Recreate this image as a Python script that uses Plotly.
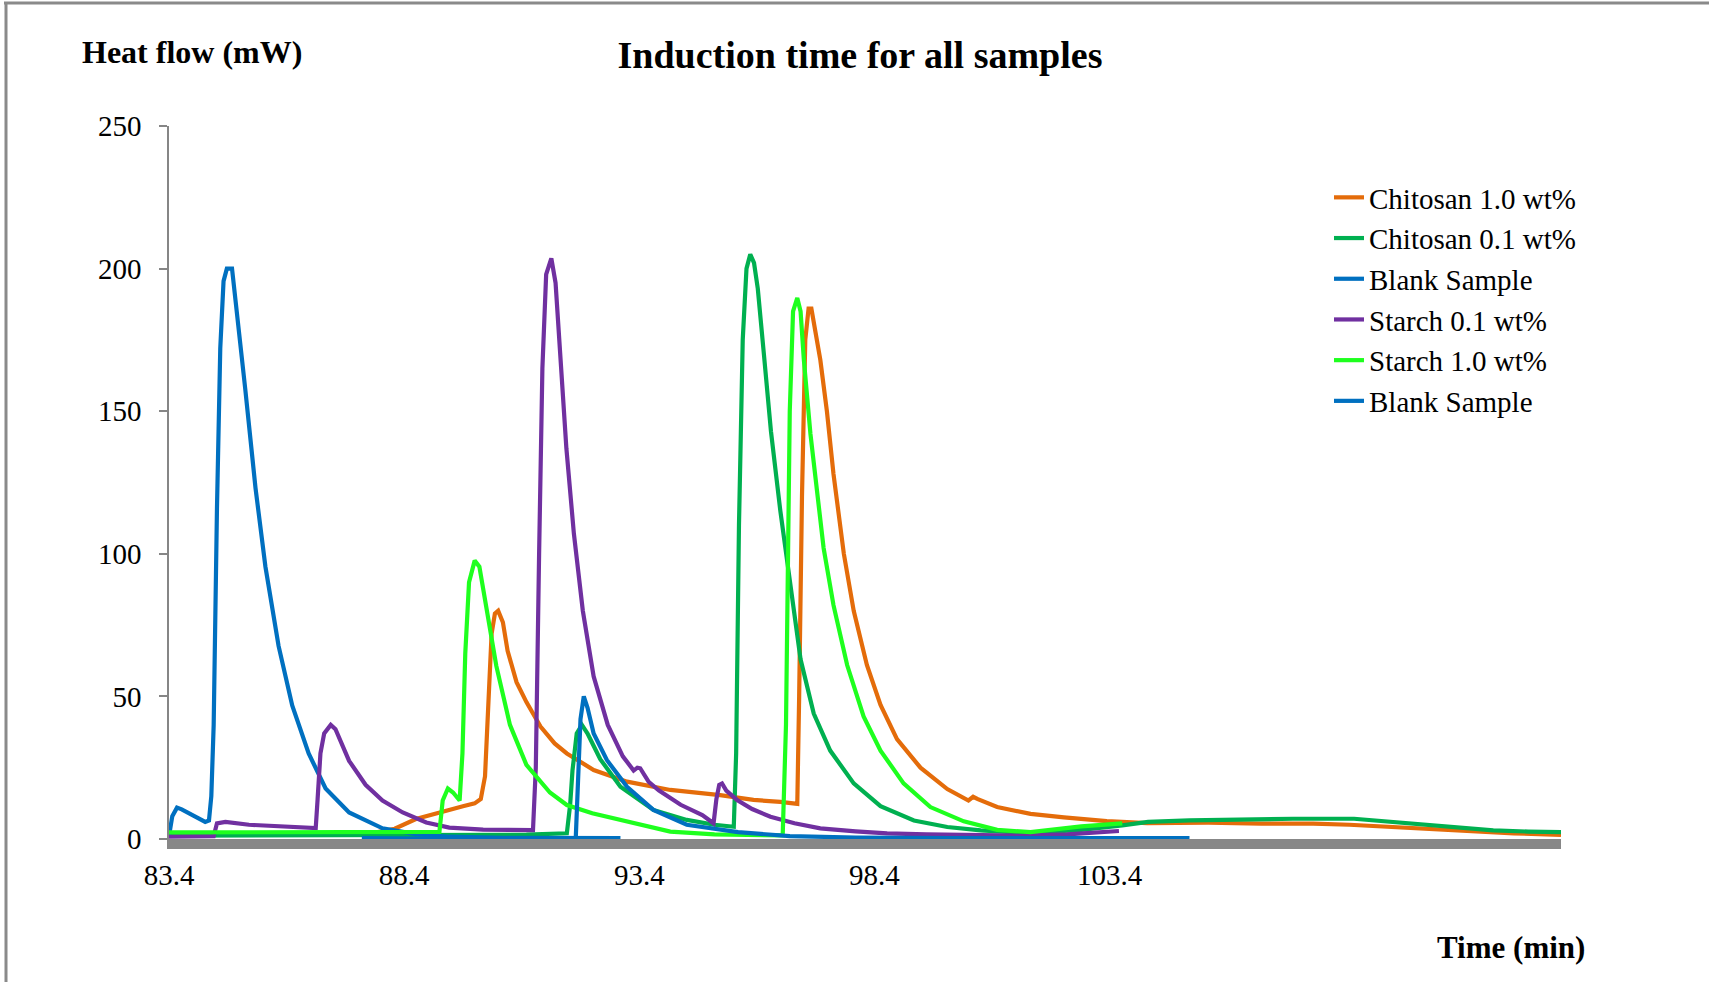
import plotly.graph_objects as go

# ---------------- data ----------------
chitosan10_t = [83.4, 85.0, 87.0, 87.7, 88.2, 88.65, 89.18, 89.65, 89.9, 90.03, 90.12, 90.19, 90.26, 90.33, 90.4,
                90.5, 90.6, 90.79, 91.0, 91.3, 91.6, 91.86, 92.43, 93.14, 94.06, 95.12, 95.83, 96.4, 96.76, 96.8,
                96.86, 96.93, 97.0, 97.06, 97.13, 97.25, 97.39, 97.53, 97.75, 97.96, 98.24, 98.53, 98.88, 99.38,
                99.95, 100.4, 100.5, 100.6, 101.01, 101.72, 102.43, 103.34, 104.2, 105.5, 106.63, 107.73, 108.5,
                109.37, 110.2, 111.0, 112.0, 113.0]
chitosan10_v = [1.5, 1.5, 1.5, 2.0, 3.6, 7.0, 9.5, 11.5, 12.5, 14, 22, 50, 72, 79, 80,
                76, 66, 55, 48, 39.4, 33.5, 30, 24.2, 20.1, 17.2, 15.4, 13.7, 13.0, 12.3, 50,
                120, 175, 186, 186, 180, 168, 150, 128, 100, 80, 61, 47, 35, 25,
                17.5, 13.5, 14.8, 14.0, 11.2, 8.8, 7.6, 6.3, 5.6, 5.7, 5.4, 5.4, 5.0,
                4.2, 3.5, 2.6, 2.0, 1.4]

chitosan01_t = [83.4, 86.0, 89.0, 91.0, 91.86, 91.93, 91.98, 92.07, 92.18, 92.3, 92.45, 92.57, 93.0, 93.7, 94.41,
                95.0, 95.41, 95.46, 95.52, 95.6, 95.68, 95.76, 95.84, 95.92, 96.05, 96.2, 96.4, 96.61, 96.83,
                97.11, 97.46, 97.96, 98.53, 99.24, 99.95, 100.66, 101.3, 102.0, 102.8, 103.67, 104.22, 105.1,
                106.0, 107.3, 108.6, 109.9, 110.8, 111.56, 112.3, 113.0]
chitosan01_v = [1.2, 1.3, 1.5, 1.5, 2.0, 12, 24, 37, 40, 37, 32, 28, 18.3, 10.2, 6.7,
                5.0, 4.3, 30, 110, 175, 200, 205, 202, 193, 170, 143, 115, 89, 63,
                44, 31, 19.5, 11.5, 6.5, 4.2, 3.0, 2.4, 2.4, 3.2, 4.8, 6.0, 6.5,
                6.8, 7.1, 7.1, 5.4, 4.2, 3.0, 2.6, 2.4]

blank1_t = [83.4, 83.47, 83.57, 83.67, 84.17, 84.25, 84.3, 84.35, 84.42, 84.49, 84.56, 84.63, 84.74, 84.84,
            85.02, 85.24, 85.45, 85.73, 86.02, 86.37, 86.73, 87.23, 87.94, 88.65, 89.36, 90.5, 91.5, 93.0]
blank1_v = [1.0, 8.0, 11, 10.4, 6.0, 6.5, 15, 40, 116, 172, 195.6, 200, 200, 186,
            158, 123, 95.5, 67.7, 46.8, 30, 17.7, 9.3, 3.75, 1.7, 0.8, 0.4, 0.3, 0.3]

starch01_t = [83.4, 84.35, 84.42, 84.6, 85.1, 85.8, 86.52, 86.56, 86.62, 86.7, 86.84, 86.94, 87.23, 87.58,
              87.94, 88.37, 88.87, 89.36, 90.08, 91.14, 91.2, 91.27, 91.34, 91.42, 91.53, 91.62, 91.73, 91.85,
              92.01, 92.2, 92.43, 92.73, 93.05, 93.28, 93.36, 93.42, 93.6, 93.82, 94.28, 94.74, 94.98, 95.04,
              95.1, 95.16, 95.25, 95.48, 95.8, 96.19, 96.7, 97.25, 98.0, 98.67, 99.5, 100.5, 101.5, 102.5, 103.6]
starch01_v = [0.8, 1.0, 5.5, 6.0, 5.0, 4.3, 3.8, 14, 30, 37, 40, 38.5, 27.4, 19,
              13.5, 9.3, 5.8, 4.0, 3.3, 3.1, 25, 100, 165, 198, 203.6, 195, 168, 137,
              107, 80, 57, 40, 29, 24, 25, 24.8, 20, 17, 12, 8.4, 5.5, 14,
              19, 19.5, 17, 13.7, 10.5, 7.8, 5.5, 3.75, 2.7, 2.0, 1.6, 1.3, 1.2, 1.6, 2.8]

starch10_t = [83.4, 86.0, 89.15, 89.22, 89.33, 89.44, 89.58, 89.64, 89.7, 89.78, 89.9, 90.0, 90.15, 90.36, 90.65,
              91.0, 91.5, 91.86, 92.4, 93.0, 94.06, 95.0, 96.0, 96.45, 96.52, 96.6, 96.67, 96.76, 96.83, 96.9,
              97.04, 97.18, 97.32, 97.53, 97.82, 98.17, 98.53, 99.02, 99.59, 100.3, 101.01, 101.72, 102.43,
              102.8, 103.67]
starch10_v = [2.3, 2.3, 2.5, 13.5, 17.7, 16.3, 13.5, 30, 65, 90, 97.6, 95.5, 81.6, 60.7, 40,
              26, 16.3, 11.9, 9, 6.7, 2.6, 1.6, 1.3, 1.3, 40, 150, 185, 189.7, 185, 168,
              142, 122, 102, 82, 61, 43, 31, 19.5, 11.2, 6.2, 3.2, 2.4, 3.8,
              4.4, 5.5]

blank2_t = [87.5, 89.0, 91.0, 91.9, 92.05, 92.1, 92.15, 92.22, 92.3, 92.43, 92.71, 93.14, 93.7, 94.41, 95.5,
            96.6, 98.0, 100.0, 102.5, 105.1]
blank2_v = [0.3, 0.2, 0.0, -0.3, 0.5, 20, 42, 50, 46, 37, 27.7, 18.3, 10.2, 5.0, 2.4,
            1.0, 0.5, 0.3, 0.3, 0.3]

series_names = ["Chitosan 1.0 wt%", "Chitosan 0.1 wt%", "Blank Sample", "Starch 0.1 wt%",
                "Starch 1.0 wt%", "Blank Sample"]
series_colors = ["#E46C0A", "#00B050", "#0070C0", "#7030A0", "#1EFF1E", "#0070C0"]

x_tick_vals = [83.4, 88.4, 93.4, 98.4, 103.4]
x_tick_text = ["83.4", "88.4", "93.4", "98.4", "103.4"]
y_tick_vals = [0, 50, 100, 150, 200, 250]

series_data = [(chitosan10_t, chitosan10_v), (chitosan01_t, chitosan01_v), (blank1_t, blank1_v),
               (starch01_t, starch01_v), (starch10_t, starch10_v), (blank2_t, blank2_v)]

# ---------------- figure ----------------
SERIF = "Liberation Serif, Times New Roman, serif"
fig = go.Figure()
for i, ((t, v), name, col) in enumerate(zip(series_data, series_names, series_colors)):
    assert len(t) == len(v), name
    fig.add_trace(go.Scatter(x=t, y=v, mode="lines", name=name, legendgroup=f"g{i}",
                             line=dict(color=col, width=4.2)))

W, H = 1709, 982
L, R, T, B = 169, 148, 126, 143
pw, ph = W - L - R, H - T - B

def px(xfull):
    return (xfull - L) / pw

def py(yfull):
    return (H - B - yfull) / ph

fig.update_layout(
    width=W, height=H,
    margin=dict(l=L, r=R, t=T, b=B, pad=0),
    paper_bgcolor="white", plot_bgcolor="white",
    font=dict(family=SERIF, color="black"),
    showlegend=True,
    legend=dict(x=px(1329), y=py(172), xanchor="left", yanchor="top",
                font=dict(family=SERIF, size=29, color="black"),
                bgcolor="rgba(0,0,0,0)", borderwidth=0, tracegroupgap=0,
                itemwidth=30),
    title=dict(text="<b>Induction time for all samples</b>", x=px(860), xref="paper", xanchor="center",
               y=1 - 55 / H, yref="container", yanchor="middle",
               font=dict(family=SERIF, size=38, color="black")),
    xaxis=dict(range=[83.4, 113.0], tickmode="array", tickvals=x_tick_vals, ticktext=x_tick_text,
               showline=True, linecolor="#878787", linewidth=10, showgrid=False, zeroline=False,
               ticks="", tickfont=dict(family=SERIF, size=29, color="black"), ticklabelstandoff=1),
    yaxis=dict(range=[0, 250], tickmode="array", tickvals=y_tick_vals,
               showline=True, linecolor="#868686", linewidth=1.5, showgrid=False, zeroline=False,
               ticks="outside", ticklen=8, tickcolor="#868686", tickwidth=1.5,
               tickfont=dict(family=SERIF, size=29, color="black"), ticklabelstandoff=12),
    annotations=[
        dict(text="<b>Heat flow (mW)</b>", x=px(80), y=py(52), xref="paper", yref="paper",
             xanchor="left", yanchor="middle", showarrow=False,
             font=dict(family=SERIF, size=32, color="black")),
        dict(text="<b>Time (min)</b>", x=px(1511), y=py(948), xref="paper", yref="paper",
             xanchor="center", yanchor="middle", showarrow=False,
             font=dict(family=SERIF, size=31, color="black")),
    ],
    shapes=[
        dict(type="line", xref="paper", yref="paper", x0=px(4), x1=px(W), y0=py(3), y1=py(3),
             line=dict(color="#8A8A8A", width=3)),
        dict(type="line", xref="paper", yref="paper", x0=px(6), x1=px(6), y0=py(2), y1=py(H),
             line=dict(color="#8A8A8A", width=3)),
    ],
)

fig.write_html("out.html", include_plotlyjs=True, config={"displayModeBar": False},
               post_script="document.body.style.margin='0';document.body.style.overflow='hidden';")
